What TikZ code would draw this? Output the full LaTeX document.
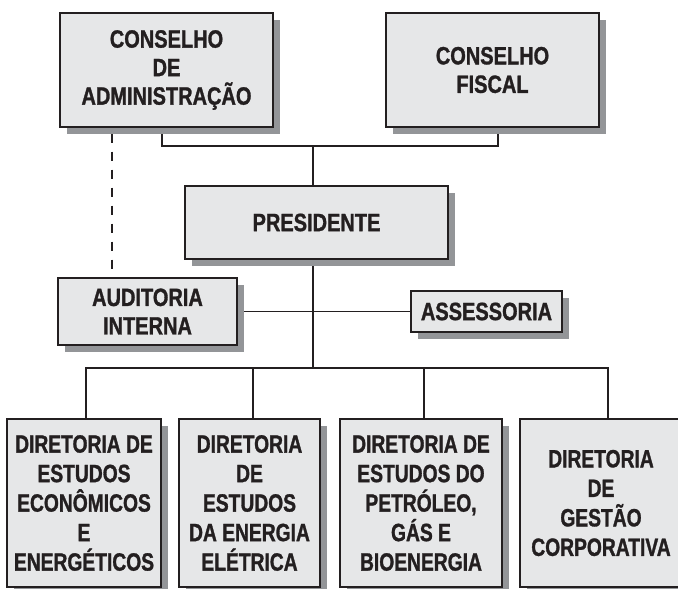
\documentclass[tikz,border=0pt]{standalone}
\usepackage{fontspec}
\setmainfont{Liberation Sans}
\newfontfamily\topfont[FakeStretch=0.80,FakeBold=1.2]{Liberation Sans}
\newfontfamily\botfont[FakeStretch=0.77,FakeBold=1.2]{Liberation Sans}
\usetikzlibrary{shadows,backgrounds}
\definecolor{boxfill}{HTML}{E6E7E8}
\definecolor{shade}{HTML}{939598}
\definecolor{ink}{HTML}{231F20}
\begin{document}
\begin{tikzpicture}[x=1pt,y=-1pt,
  box/.style={draw=ink, line width=1.3pt, fill=boxfill, text=ink, align=center,
    inner sep=0pt, font=\topfont\bfseries\fontsize{25}{28.5}\selectfont,
    drop shadow={shadow xshift=7pt, shadow yshift=-7pt, fill=shade, opacity=1}},
  dbox/.style={box, font=\botfont\bfseries\fontsize{25}{29.5}\selectfont,
    minimum width=#1, minimum height=168pt},
  conn/.style={draw=ink, line width=1.1pt},
  dashconn/.style={conn, dash pattern=on 9pt off 9pt}]
\useasboundingbox (0,0) rectangle (678,589);
\clip (0,0) rectangle (678,589);

\node[box, minimum width=213pt, minimum height=114pt] (ca) at (166.5,70) {CONSELHO\\DE\\ADMINISTRAÇÃO};
\node[box, minimum width=213pt, minimum height=114pt] (cf) at (492.5,70) {CONSELHO\\FISCAL};
\node[box, minimum width=263pt, minimum height=73pt] (pres) at (316.5,222.5) {PRESIDENTE};
\node[box, minimum width=179pt, minimum height=67pt] (aud) at (147.5,311.5) {AUDITORIA\\INTERNA};
\node[box, minimum width=151pt, minimum height=41pt] (ass) at (486.5,311.5) {ASSESSORIA};

\node[dbox=154pt] (d1) at (84,503) {DIRETORIA DE\\ESTUDOS\\ECONÔMICOS\\E\\ENERGÉTICOS};
\node[dbox=141pt] (d2) at (249.5,503) {DIRETORIA\\DE\\ESTUDOS\\DA ENERGIA\\ELÉTRICA};
\node[dbox=162pt] (d3) at (421,503) {DIRETORIA DE\\ESTUDOS DO\\PETRÓLEO,\\GÁS E\\BIOENERGIA};
\node[dbox=162pt] (d4) at (601,503) {DIRETORIA\\DE\\GESTÃO\\CORPORATIVA};

\coordinate (jtop) at (313,146);
\coordinate (dx) at (112,0);
\coordinate (b1) at (86,368);
\coordinate (b2) at (253,368);
\coordinate (b3) at (424,368);
\coordinate (b4) at (608,368);

\begin{scope}[on background layer]
\fill[white] (0,0) rectangle (678,589);
\draw[conn] ([xshift=-4.5pt]ca.south) |- (jtop) -| ([xshift=5.5pt]cf.south);
\draw[conn] (jtop) -- (jtop |- pres.north);
\draw[conn] (jtop |- pres.south) -- (jtop |- b1);
\draw[conn] (aud.east) -- (ass.west);
\draw[conn] (b1 |- d1.north) -- (b1) -- (b4) -- (b4 |- d4.north);
\draw[conn] (b2) -- (b2 |- d2.north);
\draw[conn] (b3) -- (b3 |- d3.north);
\draw[dashconn] (ca.south -| dx) ++(0,6) -- (aud.north -| dx);
\end{scope}
\end{tikzpicture}
\end{document}
